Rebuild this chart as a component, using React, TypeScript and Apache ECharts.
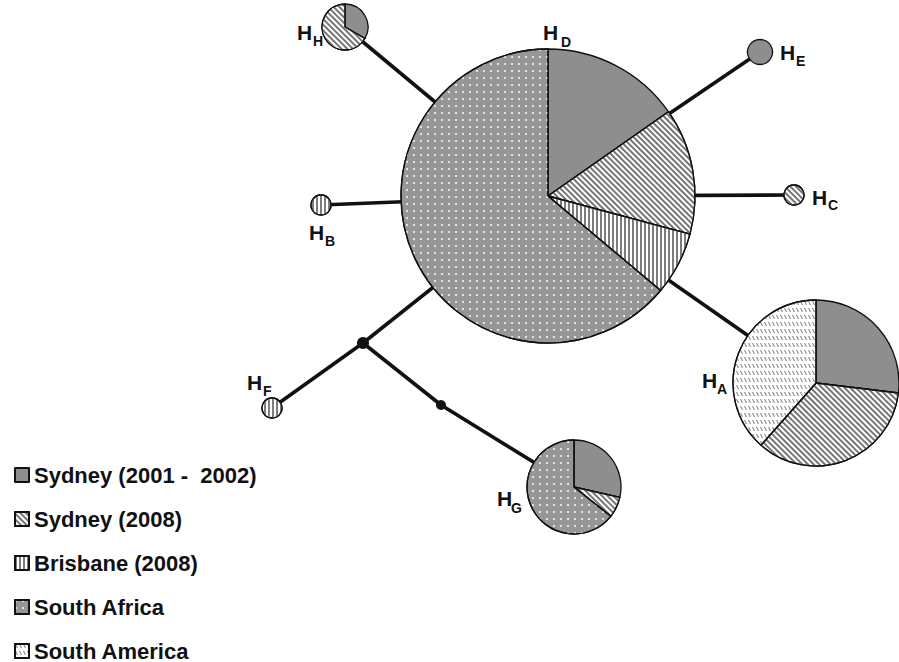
import React, { useEffect, useRef } from "react";
import * as echarts from "echarts";

// ---- data ----
const categories = [
  "Sydney (2001 -  2002)",
  "Sydney (2008)",
  "Brisbane (2008)",
  "South Africa",
  "South America",
];

// haplotype counts per category (same order as categories)
const countsA = [7, 9, 0, 0, 10];
const countsB = [0, 0, 1, 0, 0];
const countsC = [0, 1, 0, 0, 0];
const countsD = [11, 10, 5, 46, 0];
const countsE = [1, 0, 0, 0, 0];
const countsF = [0, 0, 1, 0, 0];
const countsG = [4, 1, 0, 9, 0];
const countsH = [1, 2, 0, 0, 0];

const haplotypes = ["A", "B", "C", "D", "E", "F", "G", "H"];
const haplotypeCounts: Record<string, number[]> = {
  A: countsA, B: countsB, C: countsC, D: countsD,
  E: countsE, F: countsF, G: countsG, H: countsH,
};

// network edges (node ids; m1, m2 are median vectors)
const edges: [string, string][] = [
  ["H", "D"], ["E", "D"], ["C", "D"], ["B", "D"], ["D", "A"],
  ["D", "m1"], ["m1", "F"], ["m1", "m2"], ["m2", "G"],
];
const medianVectors = ["m1", "m2"];

// ---- layout (network coordinates, radii) ----
const nodeLayout: Record<string, { x: number; y: number; r: number }> = {
  A: { x: 816, y: 383, r: 83 },
  B: { x: 321, y: 205, r: 10 },
  C: { x: 794, y: 195, r: 10 },
  D: { x: 548, y: 196, r: 147 },
  E: { x: 760, y: 52, r: 12.5 },
  F: { x: 272, y: 408, r: 10 },
  G: { x: 574, y: 487, r: 47 },
  H: { x: 345, y: 27, r: 23 },
  m1: { x: 363, y: 343, r: 12 },
  m2: { x: 441, y: 405, r: 10 },
};

// label positions: H glyph (left, cap-centre) and subscript
const labelLayout: Record<string, { hx: number; hy: number; sx: number; sy: number }> = {
  A: { hx: 702, hy: 380, sx: 717, sy: 389 },
  B: { hx: 309, hy: 232, sx: 325, sy: 241 },
  C: { hx: 812, hy: 197, sx: 828, sy: 205 },
  D: { hx: 543, hy: 32, sx: 561, sy: 42 },
  E: { hx: 780, hy: 52, sx: 796, sy: 61 },
  F: { hx: 247, hy: 382, sx: 263, sy: 391 },
  G: { hx: 497, hy: 498, sx: 511, sy: 508 },
  H: { hx: 297, hy: 32, sx: 313, sy: 41 },
};

const FONT = '"Liberation Sans", Arial, Helvetica, sans-serif';

const catStyles: any[] = [
  { color: "#8e8e8e" },
  {
    color: "#ffffff",
    decal: { symbol: "rect", symbolSize: 1, color: "#767676", dashArrayX: [1, 0], dashArrayY: [2, 2], rotation: Math.PI / 4 },
  },
  {
    color: "#ffffff",
    decal: { symbol: "rect", symbolSize: 1, color: "#7c7c7c", dashArrayX: [2, 2], dashArrayY: [1, 0], rotation: 0 },
  },
  {
    color: "#969696",
    decal: { symbol: "circle", symbolSize: 1, color: "rgba(255,255,255,0.85)", dashArrayX: [2, 5], dashArrayY: [2, 5], rotation: 0 },
  },
  {
    color: "#ffffff",
    decal: { symbol: "path://M0,0L4,0L10,10L6,10Z", symbolSize: 1, symbolKeepAspect: false, color: "#8a8a8a", dashArrayX: [3, 1], dashArrayY: [4, 3], rotation: 0 },
  },
];

export default function App() {
  const ref = useRef<HTMLDivElement>(null);

  useEffect(() => {
    if (!ref.current) return;
    const chart = echarts.init(ref.current, null, { renderer: "svg" });

    chart.setOption({
      animation: false,
      grid: { left: 0, right: 0, top: 0, bottom: 0 },
      xAxis: { type: "value", min: 0, max: 899, show: false },
      yAxis: { type: "value", min: 0, max: 662, inverse: true, show: false },
      series: [],
    });

    const px = (x: number, y: number) =>
      chart.convertToPixel({ gridIndex: 0 }, [x, y]) as number[];

    const linesSeries = {
      type: "lines",
      coordinateSystem: "cartesian2d",
      silent: true,
      z: 1,
      lineStyle: { color: "#111", width: 3.6, opacity: 1, curveness: 0 },
      data: edges.map(([a, b]) => ({
        coords: [
          [nodeLayout[a].x, nodeLayout[a].y],
          [nodeLayout[b].x, nodeLayout[b].y],
        ],
      })),
    };

    const medianSeries = {
      type: "scatter",
      silent: true,
      z: 4,
      itemStyle: { color: "#111", opacity: 1 },
      data: medianVectors.map((m) => ({
        value: [nodeLayout[m].x, nodeLayout[m].y],
        symbolSize: nodeLayout[m].r,
      })),
    };

    const pieSeries = haplotypes.map((h) => ({
      type: "pie",
      name: "H" + h,
      center: px(nodeLayout[h].x, nodeLayout[h].y),
      radius: [0, nodeLayout[h].r],
      startAngle: 90,
      clockwise: true,
      silent: true,
      z: 3,
      avoidLabelOverlap: false,
      label: { show: false },
      labelLine: { show: false },
      emphasis: { disabled: true },
      itemStyle: { borderColor: "#111", borderWidth: 1.3 },
      data: categories
        .map((c, i) => ({ name: c, value: haplotypeCounts[h][i], itemStyle: catStyles[i] }))
        .filter((d) => d.value > 0),
    }));

    const graphic: any[] = [];
    haplotypes.forEach((h) => {
      const L = labelLayout[h];
      const p1 = px(L.hx, L.hy);
      const p2 = px(L.sx, L.sy);
      graphic.push({
        type: "text", x: p1[0], y: p1[1], z: 10, silent: true,
        style: { text: "H", fontSize: 21, fontWeight: "bold", fontFamily: FONT, fill: "#111", align: "left", verticalAlign: "middle" },
      });
      graphic.push({
        type: "text", x: p2[0], y: p2[1], z: 10, silent: true,
        style: { text: h, fontSize: 14, fontWeight: "bold", fontFamily: FONT, fill: "#111", align: "left", verticalAlign: "middle" },
      });
    });

    chart.setOption({
      legend: {
        data: categories.map((c) => ({ name: c, icon: "rect" })),
        orient: "vertical",
        left: 14,
        top: 464,
        height: 260,
        padding: 0,
        itemWidth: 14,
        itemHeight: 14,
        itemGap: 22,
        selectedMode: false,
        textStyle: { fontSize: 22, fontWeight: "bold", fontFamily: FONT, color: "#111", lineHeight: 22 },
      },
      graphic,
      series: [linesSeries, ...pieSeries, medianSeries],
    });

    return () => chart.dispose();
  }, []);

  return (
    <div
      ref={ref}
      style={{ position: "absolute", left: 0, top: 0, width: 899, height: 662, background: "#fff" }}
    />
  );
}
